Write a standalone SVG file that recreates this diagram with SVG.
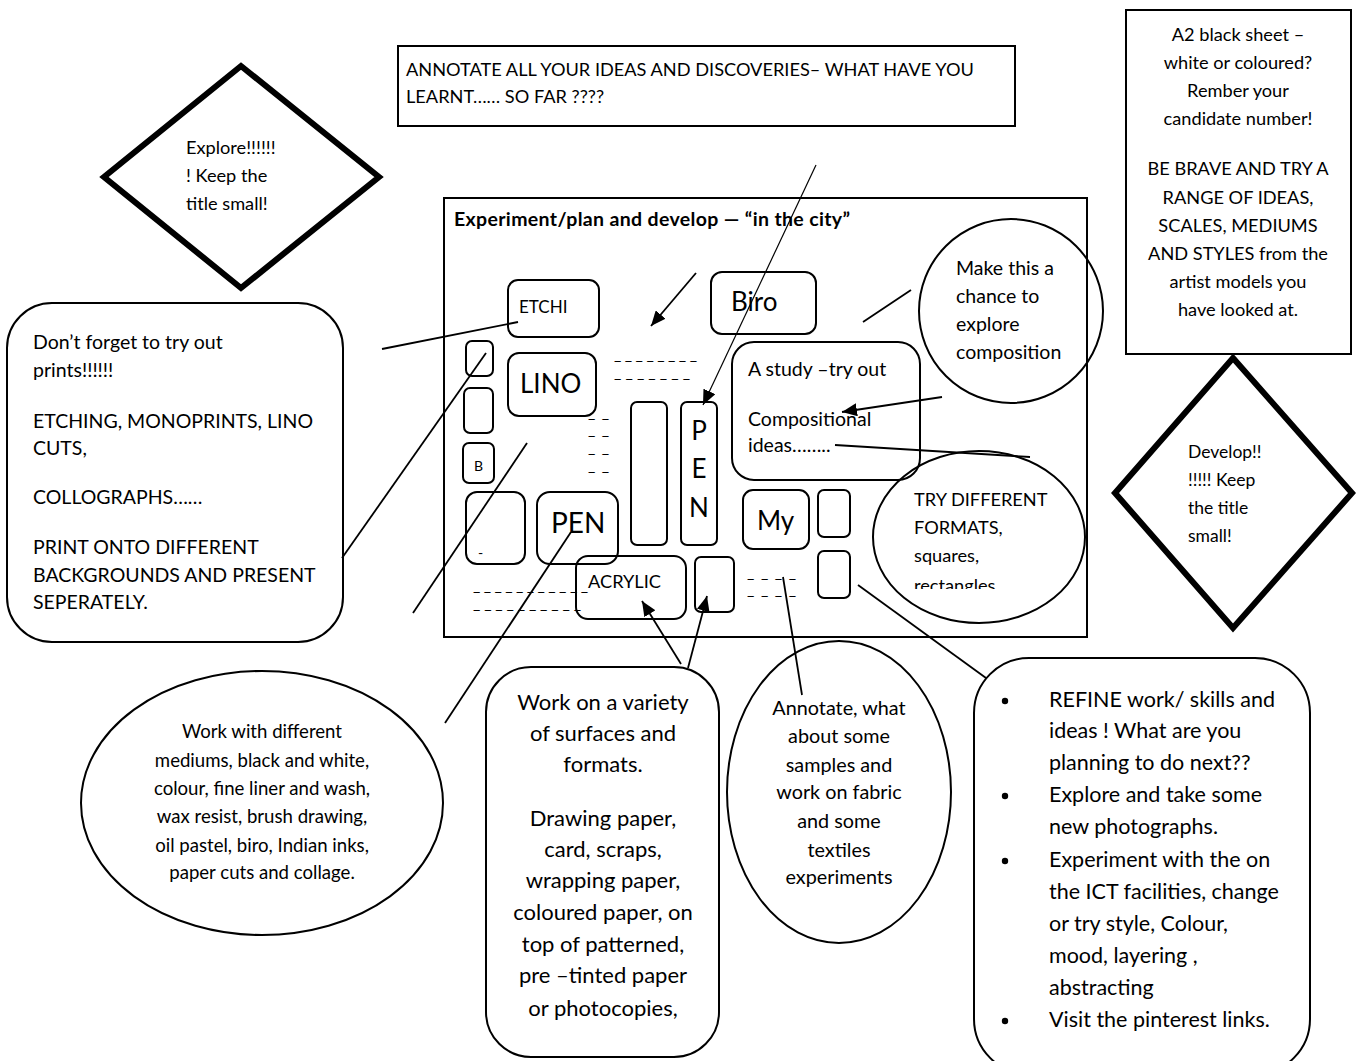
<svg xmlns="http://www.w3.org/2000/svg" width="1359" height="1061" viewBox="0 0 1359 1061">
  <style>
    .bg { fill: #ffffff; }
    .box { fill: none; stroke: #000; stroke-width: 2; }
    .thick { fill: none; stroke: #000; stroke-width: 6; stroke-linejoin: miter; }
    .ln { fill: none; stroke: #000; stroke-width: 1.8; }
    .thin { fill: none; stroke: #000; stroke-width: 1.2; }
    text { font-family: Lato, "Open Sans", "Liberation Sans", sans-serif; fill: #000; }
    .t17 { font-size: 17.5px; }
    .t18 { font-size: 18.2px; }
    .t186 { font-size: 18.6px; }
    .t195 { font-size: 19.5px; }
    .t20 { font-size: 19.8px; }
    .t21 { font-size: 21.5px; }
    .t22 { font-size: 22px; }
    .big { font-size: 26px; }
    .mid { font-size: 17px; }
    .sm { font-size: 14px; }
    .title { font-size: 19.5px; font-weight: bold; }
    .dash { font-size: 16px; }
    .c { text-anchor: middle; }
  </style>
  <defs>
    <marker id="head" markerUnits="userSpaceOnUse" markerWidth="16" markerHeight="13" refX="15" refY="6.5" orient="auto">
      <path d="M0,0 L15,6.5 L0,13 z" fill="#000"/>
    </marker>
    <clipPath id="clipTry">
      <rect x="870" y="440" width="230" height="149"/>
    </clipPath>
    <clipPath id="clipOil">
      <rect x="466" y="540" width="59" height="15"/>
    </clipPath>
  </defs>

  <rect class="bg" x="0" y="0" width="1359" height="1061"/>

  <!-- header note -->
  <g id="note-annotate">
    <rect class="box" x="398" y="46" width="617" height="80"/>
    <text class="t18" x="406" y="76">ANNOTATE ALL YOUR IDEAS AND DISCOVERIES– WHAT HAVE YOU</text>
    <text class="t18" x="406" y="103">LEARNT…… SO FAR ????</text>
  </g>

  <!-- explore diamond -->
  <g id="diamond-explore">
    <polygon class="thick" points="241,66 379,177 241,288 104,177"/>
    <text class="t18" x="186" y="154">Explore!!!!!!</text>
    <text class="t18" x="186" y="182">! Keep the</text>
    <text class="t18" x="186" y="210">title small!</text>
  </g>

  <!-- sheet note -->
  <g id="note-sheet">
    <rect class="box" x="1126" y="10" width="225" height="344"/>
    <text class="t18 c" x="1238" y="41">A2 black sheet –</text>
    <text class="t18 c" x="1238" y="69">white or coloured?</text>
    <text class="t18 c" x="1238" y="97">Rember your</text>
    <text class="t18 c" x="1238" y="125">candidate number!</text>
    <text class="t18 c" x="1238" y="175">BE BRAVE AND TRY A</text>
    <text class="t18 c" x="1238" y="204">RANGE OF IDEAS,</text>
    <text class="t18 c" x="1238" y="232">SCALES, MEDIUMS</text>
    <text class="t18 c" x="1238" y="260">AND STYLES from the</text>
    <text class="t18 c" x="1238" y="288">artist models you</text>
    <text class="t18 c" x="1238" y="316">have looked at.</text>
  </g>

  <!-- develop diamond -->
  <g id="diamond-develop">
    <polygon class="thick" points="1233,358 1352,493 1233,628 1115,493"/>
    <text class="t17" x="1188" y="458">Develop!!</text>
    <text class="t17" x="1188" y="486">!!!!! Keep</text>
    <text class="t17" x="1188" y="514">the title</text>
    <text class="t17" x="1188" y="542">small!</text>
  </g>

  <!-- prints note -->
  <g id="note-prints">
    <rect class="box" x="7" y="303" width="336" height="339" rx="45" ry="45"/>
    <text class="t195" x="33" y="349">Don’t forget to try out</text>
    <text class="t195" x="33" y="377">prints!!!!!!</text>
    <text class="t195" x="33" y="428">ETCHING, MONOPRINTS, LINO</text>
    <text class="t195" x="33" y="455">CUTS,</text>
    <text class="t195" x="33" y="504">COLLOGRAPHS……</text>
    <text class="t195" x="33" y="554">PRINT ONTO DIFFERENT</text>
    <text class="t195" x="33" y="582">BACKGROUNDS AND PRESENT</text>
    <text class="t195" x="33" y="609">SEPERATELY.</text>
  </g>

  <!-- sheet plan frame -->
  <g id="plan-frame">
    <rect class="box" x="444" y="198" width="643" height="439"/>
    <text class="title" x="454" y="226" textLength="396" lengthAdjust="spacing">Experiment/plan and develop — “in the city”</text>
  </g>

  <g id="box-etchi">
    <rect class="box" x="508" y="280" width="91" height="57" rx="10"/>
    <text class="mid" x="519" y="313">ETCHI</text>
  </g>
  <g id="box-small-1"><rect class="box" x="466" y="341" width="27" height="35" rx="6"/></g>
  <g id="box-small-2"><rect class="box" x="464" y="388" width="29" height="45" rx="6"/></g>
  <g id="box-b">
    <rect class="box" x="463" y="443" width="31" height="40" rx="6"/>
    <text class="sm" x="474" y="471">B</text>
  </g>
  <g id="box-lino">
    <rect class="box" x="508" y="353" width="88" height="63" rx="11"/>
    <text class="big" x="520" y="393">LINO</text>
  </g>
  <g id="box-biro">
    <rect class="box" x="711" y="272" width="105" height="62" rx="11"/>
    <text class="big" x="731" y="311">Biro</text>
  </g>
  <g id="box-study">
    <rect class="box" x="732" y="342" width="188" height="138" rx="22"/>
    <text class="t195" x="748" y="376">A study –try out</text>
    <text class="t195" x="748" y="426">Compositional</text>
    <text class="t195" x="748" y="452">ideas……..</text>
  </g>
  <g id="box-tall"><rect class="box" x="631" y="402" width="36" height="143" rx="6"/></g>
  <g id="box-pen-vertical">
    <rect class="box" x="681" y="402" width="36" height="143" rx="6"/>
    <text class="big c" x="699" y="440">P</text>
    <text class="big c" x="699" y="478">E</text>
    <text class="big c" x="699" y="517">N</text>
  </g>
  <g id="box-oil">
    <rect class="box" x="466" y="492" width="59" height="72" rx="11"/>
    <text class="sm" x="478" y="558" clip-path="url(#clipOil)">-..</text>
  </g>
  <g id="box-pen">
    <rect class="box" x="537" y="492" width="81" height="72" rx="13"/>
    <text class="big" x="551" y="533" style="font-size:28px">PEN</text>
  </g>
  <g id="box-acrylic">
    <rect class="box" x="576" y="556" width="110" height="63" rx="12"/>
    <text class="t18" x="588" y="588">ACRYLIC</text>
  </g>
  <g id="box-small-3"><rect class="box" x="695" y="557" width="39" height="55" rx="6"/></g>
  <g id="box-my">
    <rect class="box" x="743" y="490" width="66" height="59" rx="10"/>
    <text class="big" x="757" y="530">My</text>
  </g>
  <g id="box-small-4"><rect class="box" x="818" y="490" width="32" height="47" rx="6"/></g>
  <g id="box-small-5"><rect class="box" x="818" y="551" width="32" height="47" rx="6"/></g>

  <!-- writing-line placeholders -->
  <g id="writing-lines">
    <text class="dash" x="614" y="360" textLength="83" lengthAdjust="spacing">________</text>
    <text class="dash" x="614" y="378" textLength="76" lengthAdjust="spacing">_______</text>
    <text class="dash" x="588" y="418" textLength="21" lengthAdjust="spacing">__</text>
    <text class="dash" x="588" y="435" textLength="21" lengthAdjust="spacing">__</text>
    <text class="dash" x="588" y="453" textLength="21" lengthAdjust="spacing">__</text>
    <text class="dash" x="588" y="471" textLength="21" lengthAdjust="spacing">__</text>
    <text class="dash" x="473" y="591" textLength="115" lengthAdjust="spacing">___________</text>
    <text class="dash" x="473" y="609" textLength="108" lengthAdjust="spacing">__________</text>
    <text class="dash" x="747" y="578" textLength="49" lengthAdjust="spacing">____</text>
    <text class="dash" x="747" y="595" textLength="49" lengthAdjust="spacing">____</text>
  </g>

  <g id="circle-composition">
    <ellipse class="box" cx="1011" cy="311" rx="92" ry="92"/>
    <text class="t195" x="956" y="275">Make this a</text>
    <text class="t195" x="956" y="303">chance to</text>
    <text class="t195" x="956" y="331">explore</text>
    <text class="t195" x="956" y="359">composition</text>
  </g>

  <g id="ellipse-formats">
    <ellipse class="box" cx="979" cy="537" rx="106" ry="86"/>
    <g clip-path="url(#clipTry)">
      <text class="t18" x="914" y="506">TRY DIFFERENT</text>
      <text class="t18" x="914" y="534">FORMATS,</text>
      <text class="t18" x="914" y="562">squares,</text>
      <text class="t18" x="914" y="592">rectangles.</text>
    </g>
  </g>

  <g id="ellipse-mediums">
    <ellipse class="box" cx="262" cy="803" rx="181" ry="132"/>
    <text class="t186 c" x="262" y="738">Work with different</text>
    <text class="t186 c" x="262" y="767">mediums, black and white,</text>
    <text class="t186 c" x="262" y="795">colour, fine liner and wash,</text>
    <text class="t186 c" x="262" y="823">wax resist, brush drawing,</text>
    <text class="t186 c" x="262" y="852">oil pastel, biro, Indian inks,</text>
    <text class="t186 c" x="262" y="879">paper cuts and collage.</text>
  </g>

  <g id="note-surfaces">
    <rect class="box" x="486" y="667" width="233" height="390" rx="45"/>
    <text class="t22 c" x="603" y="710">Work on a variety</text>
    <text class="t22 c" x="603" y="741">of surfaces and</text>
    <text class="t22 c" x="603" y="772">formats.</text>
    <text class="t22 c" x="603" y="826">Drawing paper,</text>
    <text class="t22 c" x="603" y="857">card, scraps,</text>
    <text class="t22 c" x="603" y="888">wrapping paper,</text>
    <text class="t22 c" x="603" y="920">coloured paper, on</text>
    <text class="t22 c" x="603" y="952">top of patterned,</text>
    <text class="t22 c" x="603" y="983">pre –tinted paper</text>
    <text class="t22 c" x="603" y="1016">or photocopies,</text>
  </g>

  <g id="ellipse-textiles">
    <ellipse class="box" cx="839" cy="792" rx="112" ry="151"/>
    <text class="t20 c" x="839" y="715">Annotate, what</text>
    <text class="t20 c" x="839" y="743">about some</text>
    <text class="t20 c" x="839" y="772">samples and</text>
    <text class="t20 c" x="839" y="799">work on fabric</text>
    <text class="t20 c" x="839" y="828">and some</text>
    <text class="t20 c" x="839" y="857">textiles</text>
    <text class="t20 c" x="839" y="884">experiments</text>
  </g>

  <g id="note-refine">
    <rect class="box" x="974" y="658" width="336" height="416" rx="55"/>
    <circle cx="1005" cy="701" r="3.2" fill="#000"/>
    <circle cx="1005" cy="796" r="3.2" fill="#000"/>
    <circle cx="1005" cy="861" r="3.2" fill="#000"/>
    <circle cx="1005" cy="1021" r="3.2" fill="#000"/>
    <text class="t21" x="1049" y="707">REFINE work/ skills and</text>
    <text class="t21" x="1049" y="738">ideas ! What are you</text>
    <text class="t21" x="1049" y="770">planning to do next??</text>
    <text class="t21" x="1049" y="802">Explore and take some</text>
    <text class="t21" x="1049" y="834">new photographs.</text>
    <text class="t21" x="1049" y="867">Experiment with the on</text>
    <text class="t21" x="1049" y="899">the ICT facilities, change</text>
    <text class="t21" x="1049" y="931">or try style, Colour,</text>
    <text class="t21" x="1049" y="963">mood, layering ,</text>
    <text class="t21" x="1049" y="995">abstracting</text>
    <text class="t21" x="1049" y="1027">Visit the pinterest links.</text>
  </g>

  <!-- connectors -->
  <g id="connectors">
    <line class="ln" x1="382" y1="349" x2="518" y2="322"/>
    <line class="ln" x1="342" y1="558" x2="486" y2="353"/>
    <line class="ln" x1="413" y1="613" x2="527" y2="443"/>
    <line class="ln" x1="445" y1="723" x2="571" y2="532"/>
    <line class="ln" x1="696" y1="273" x2="651" y2="326" marker-end="url(#head)"/>
    <line class="thin" x1="816" y1="165" x2="703" y2="405" marker-end="url(#head)"/>
    <line class="ln" x1="863" y1="322" x2="911" y2="290"/>
    <line class="ln" x1="942" y1="397" x2="842" y2="412" marker-end="url(#head)"/>
    <line class="ln" x1="835" y1="445" x2="1030" y2="457"/>
    <line class="ln" x1="783" y1="577" x2="802" y2="695"/>
    <line class="ln" x1="858" y1="585" x2="986" y2="678"/>
    <line class="ln" x1="681" y1="664" x2="642" y2="601" marker-end="url(#head)"/>
    <line class="ln" x1="688" y1="668" x2="707" y2="596" marker-end="url(#head)"/>
  </g>
</svg>
